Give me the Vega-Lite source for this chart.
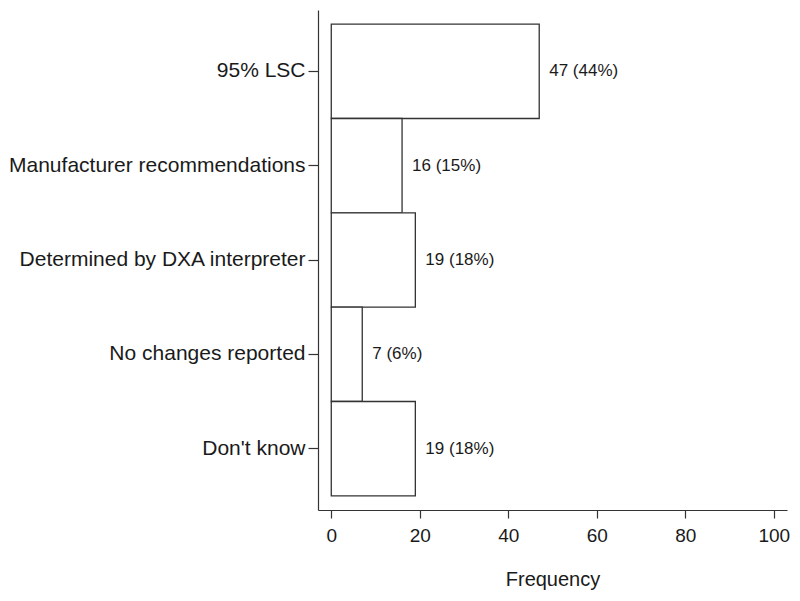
{
  "$schema": "https://vega.github.io/schema/vega-lite/v6.json",
  "width": 469,
  "height": 500,
  "autosize": {"type": "none"},
  "padding": {"left": 318, "top": 10, "right": 13, "bottom": 91},
  "background": "white",
  "config": {
    "view": {"stroke": null},
    "font": "Liberation Sans",
    "axis": {"grid": false, "domainColor": "#333333", "tickColor": "#333333", "labelColor": "#1a1a1a", "titleColor": "#1a1a1a", "labelFont": "Liberation Sans", "titleFont": "Liberation Sans", "domainWidth": 1.2, "tickWidth": 1.2}
  },
  "data": {
    "values": [
      {"category": "95% LSC", "count": 47, "label": "47 (44%)"},
      {"category": "Manufacturer recommendations", "count": 16, "label": "16 (15%)"},
      {"category": "Determined by DXA interpreter", "count": 19, "label": "19 (18%)"},
      {"category": "No changes reported", "count": 7, "label": "7 (6%)"},
      {"category": "Don't know", "count": 19, "label": "19 (18%)"}
    ]
  },
  "encoding": {
    "y": {
      "field": "category", "type": "nominal", "sort": null,
      "scale": {"paddingInner": 0, "paddingOuter": 0.15},
      "axis": {"title": null, "labelFontSize": 21, "labelLimit": 400, "tickSize": 10, "labelPadding": 3, "labelFontWeight": "normal"}
    },
    "x": {
      "field": "count", "type": "quantitative",
      "scale": {"domain": [-3, 103], "nice": false, "zero": false},
      "axis": {"title": "Frequency", "values": [0, 20, 40, 60, 80, 100], "labelFontSize": 19, "titleFontSize": 20, "titleFontWeight": "normal", "tickSize": 8, "labelPadding": 8, "titlePadding": 24}
    }
  },
  "layer": [
    {
      "mark": {"type": "bar", "fill": "white", "stroke": "#333333", "strokeWidth": 1.3},
      "encoding": {"x": {"datum": 0, "type": "quantitative"}, "x2": {"field": "count"}}
    },
    {
      "mark": {"type": "text", "align": "left", "baseline": "middle", "dx": 10, "fontSize": 17, "color": "#1a1a1a", "font": "Liberation Sans"},
      "encoding": {"text": {"field": "label"}}
    }
  ]
}
